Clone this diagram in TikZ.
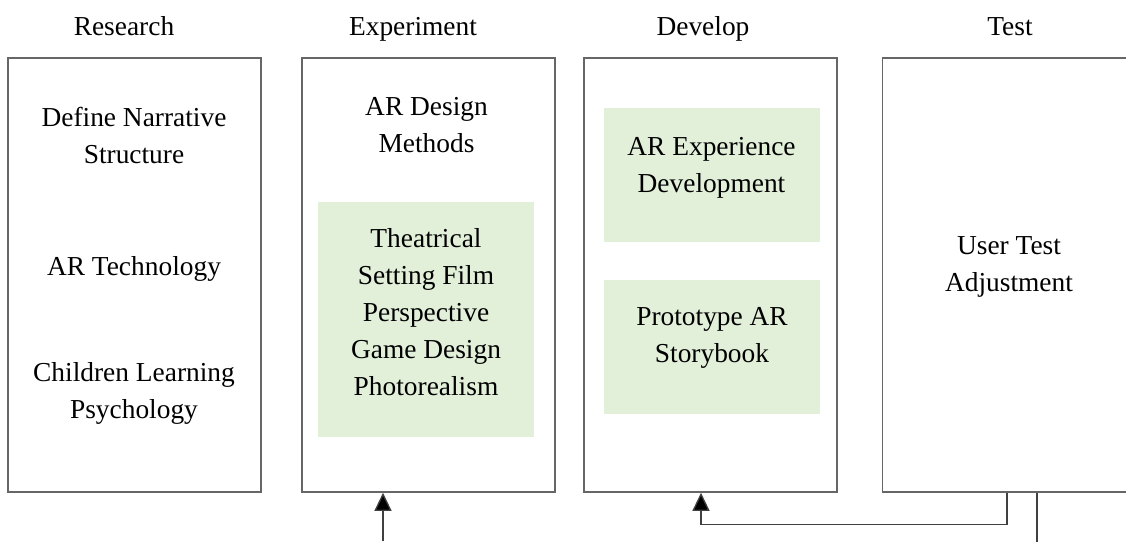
\documentclass[tikz,border=0pt]{standalone}
\usepackage{fontspec}
\setmainfont{Liberation Serif}
\usetikzlibrary{arrows.meta, positioning, calc}
\definecolor{stagegreen}{HTML}{E2EFD9}

\begin{document}
\begin{tikzpicture}[
    x=1pt, y=-1pt,
    font=\fontsize{27.4}{37}\selectfont,
    stage/.style={draw=black!60, line width=1.6pt, minimum width=253pt,
                  minimum height=434pt, inner sep=0pt},
    method/.style={fill=stagegreen, minimum width=216pt, inner sep=0pt},
    txt/.style={align=center, inner sep=0pt},
    title/.style={anchor=base, inner sep=0pt},
    link/.style={-{Triangle[length=18pt, width=17pt, fill=black]}, draw=black!75, line width=1.3pt},
    wire/.style={draw=black!75, line width=1.3pt}
  ]
    \useasboundingbox (0,0) rectangle (1126,541);
    \clip (0,0) rectangle (1126,541);

    % stage boxes
    \node[stage] (res) at (134.5,275) {};
    \node[stage] (exp) at (428.5,275) {};
    \node[stage] (dev) at (710.5,275) {};
    \node[stage] (test) at (1009,275) {};

    % titles
    \node[title] (restitle) at (124,35) {Research};
    \node[title] (exptitle) at (413,35) {Experiment};
    \node[title] (devtitle) at (703,35) {Develop};
    \node[title] (testtitle) at (1010,35) {Test};

    % research
    \node[txt] (narr) at (134,135.2) {Define Narrative\\Structure};
    \node[txt] (artech) at (134,268.6) {AR Technology};
    \node[txt] (psych) at (134,393.1) {Children Learning\\Psychology};

    % experiment
    \node[txt] (design) at (426.5,125.2) {AR Design\\Methods};
    \node[method, minimum height=235pt] (meth) at (426,319.5) {};
    \node[txt] (methtxt) at (426,312.6) {Theatrical\\Setting Film\\Perspective\\Game Design\\Photorealism};

    % develop
    \node[method, minimum height=134pt] (arexp) at (712,175) {};
    \node[txt] (arexptxt) at (711.5,167.6) {AR Experience\\Development};
    \node[method, minimum height=134pt] (proto) at (712,347) {};
    \node[txt] (prototxt) at (712,338.1) {Prototype AR\\Storybook};

    % test
    \node[txt] (user) at (1009,267) {User Test\\Adjustment};

    % connectors
    \coordinate (expfeed) at (383,541);
    \draw[link] (expfeed) -- (expfeed |- exp.south);
    \draw[link] ([xshift=-2pt]test.south) -- ++(0,32) -| ([xshift=-9.5pt]dev.south);
    \draw[wire] ([xshift=28pt]test.south) -- ++(0,50);
\end{tikzpicture}
\end{document}
